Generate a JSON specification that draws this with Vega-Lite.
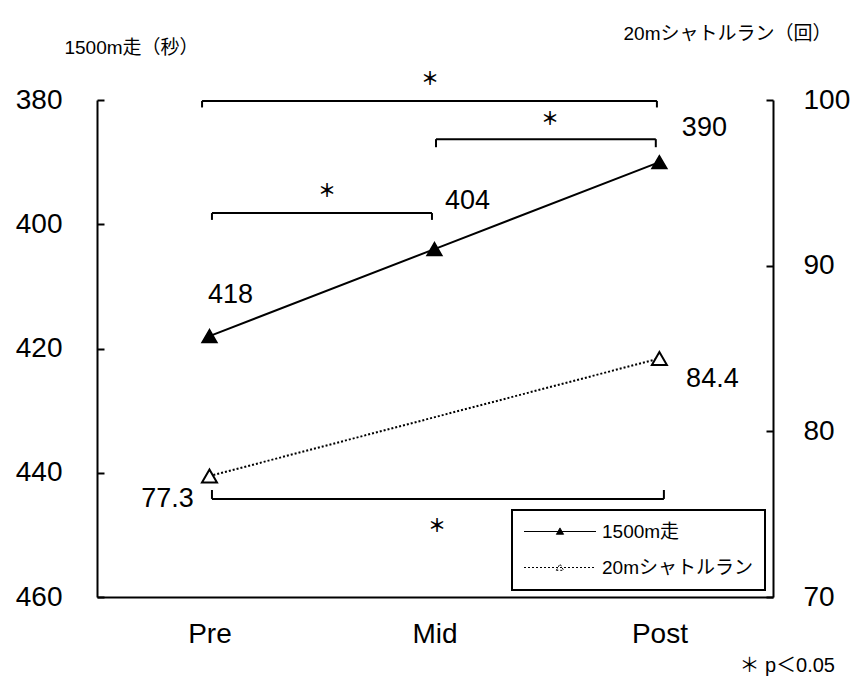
{
  "$schema": "https://vega.github.io/schema/vega-lite/v6.json",
  "width": 676,
  "height": 497,
  "autosize": {"type": "none"},
  "padding": {"left": 97, "top": 100, "right": 78, "bottom": 80},
  "background": "white",
  "config": {
    "view": {"stroke": null},
    "font": "Liberation Sans, Noto Sans CJK JP",
    "axis": {
      "grid": false,
      "domainColor": "black",
      "domainWidth": 2,
      "tickColor": "black",
      "tickWidth": 2,
      "labelColor": "black",
      "titleColor": "black",
      "labelFont": "Liberation Sans, Noto Sans CJK JP",
      "titleFont": "Liberation Sans, Noto Sans CJK JP",
      "titleFontWeight": "normal",
      "labelFlush": false
    },
    "text": {"font": "Liberation Sans, Noto Sans CJK JP", "color": "black"}
  },
  "title": {
    "text": "＊ p＜0.05",
    "orient": "bottom",
    "anchor": "end",
    "frame": "group",
    "fontSize": 20,
    "fontWeight": "normal",
    "color": "black",
    "font": "Liberation Sans, Noto Sans CJK JP",
    "offset": 8,
    "dx": 62
  },
  "datasets": {
    "scores": [
      {"phase": "Pre", "idx": 0, "series": "1500m走", "value": 418},
      {"phase": "Mid", "idx": 1, "series": "1500m走", "value": 404},
      {"phase": "Post", "idx": 2, "series": "1500m走", "value": 390},
      {"phase": "Pre", "idx": 0, "series": "20mシャトルラン", "value": 77.3},
      {"phase": "Post", "idx": 2, "series": "20mシャトルラン", "value": 84.4}
    ],
    "brackets": [
      {"axis": "left", "pair": "Pre-Post", "x1": -0.033, "x2": 1.989, "yBar": 380.15, "yEnd": 381.2, "xs": 0.98, "ys": 376.8},
      {"axis": "left", "pair": "Mid-Post", "x1": 1.007, "x2": 1.984, "yBar": 386.3, "yEnd": 387.6, "xs": 1.514, "ys": 383.2},
      {"axis": "left", "pair": "Pre-Mid", "x1": 0.011, "x2": 0.989, "yBar": 398.2, "yEnd": 399.3, "xs": 0.522, "ys": 394.8},
      {"axis": "right", "pair": "Pre-Post", "x1": 0.011, "x2": 2.02, "yBar": 75.92, "yEnd": 76.46, "xs": 1.011, "ys": 74.23}
    ]
  },
  "resolve": {"scale": {"y": "independent"}},
  "layer": [
    {
      "layer": [
        {
          "data": {"name": "scores"},
          "transform": [{"filter": "datum.series == '1500m走'"}],
          "mark": {"type": "line", "color": "black", "strokeWidth": 2},
          "encoding": {
            "x": {
              "field": "idx", "type": "quantitative",
              "scale": {"domain": [-0.5, 2.505], "nice": false, "zero": false},
              "axis": {
                "values": [0, 1, 2],
                "labelExpr": "datum.value == 0 ? 'Pre' : datum.value == 1 ? 'Mid' : 'Post'",
                "ticks": false,
                "labelPadding": 23,
                "labelFontSize": 28,
                "title": null
              }
            },
            "y": {
              "field": "value", "type": "quantitative",
              "scale": {"domain": [380, 460], "reverse": true, "nice": false, "zero": false},
              "axis": {
                "orient": "left",
                "values": [380, 400, 420, 440, 460],
                "tickSize": -7,
                "labelPadding": 42,
                "labelFontSize": 28,
                "title": "1500m走（秒）",
                "titleAngle": 0,
                "titleX": 34,
                "titleY": -53,
                "titleAlign": "center",
                "titleBaseline": "middle",
                "titleFontSize": 19
              }
            }
          }
        },
        {
          "data": {"name": "scores"},
          "transform": [{"filter": "datum.series == '1500m走'"}],
          "mark": {"type": "point", "shape": "triangle-up", "size": 225, "filled": true, "opacity": 1, "stroke": "black", "strokeWidth": 1.5},
          "encoding": {
            "x": {"field": "idx", "type": "quantitative"},
            "y": {"field": "value", "type": "quantitative"},
            "fill": {
              "field": "series", "type": "nominal",
              "scale": {"domain": ["1500m走", "20mシャトルラン"], "range": ["black", "white"]},
              "legend": {
                "orient": "none",
                "legendX": 415,
                "legendY": 410,
                "title": null,
                "symbolType": "M-4.5,0H4.5M-0.45,0.35L0,-0.45L0.45,0.35Z",
                "symbolSize": 256,
                "symbolStrokeColor": "black",
                "symbolStrokeWidth": 1,
                "symbolOpacity": 1,
                "labelFontSize": 19,
                "labelFont": "Liberation Sans, Noto Sans CJK JP",
                "labelColor": "black",
                "labelOffset": 6,
                "strokeColor": "black",
                "fillColor": "white",
                "padding": 12,
                "rowPadding": 16,
                "encode": {
                  "symbols": {"update": {
                    "x": {"value": 36},
                    "strokeDash": {"signal": "datum.value == '20mシャトルラン' ? [2,2] : [1,0]"}
                  }},
                  "labels": {"update": {"x": {"value": 78}}},
                  "legend": {"update": {"strokeWidth": {"value": 2}}}
                }
              }
            }
          }
        },
        {
          "data": {"name": "brackets"},
          "transform": [{"filter": "datum.axis == 'left'"}],
          "mark": {"type": "rule", "color": "black", "strokeWidth": 2},
          "encoding": {
            "x": {"field": "x1", "type": "quantitative"},
            "x2": {"field": "x2"},
            "y": {"field": "yBar", "type": "quantitative"}
          }
        },
        {
          "data": {"name": "brackets"},
          "transform": [{"filter": "datum.axis == 'left'"}],
          "mark": {"type": "rule", "color": "black", "strokeWidth": 2},
          "encoding": {
            "x": {"field": "x1", "type": "quantitative"},
            "y": {"field": "yBar", "type": "quantitative"},
            "y2": {"field": "yEnd"}
          }
        },
        {
          "data": {"name": "brackets"},
          "transform": [{"filter": "datum.axis == 'left'"}],
          "mark": {"type": "rule", "color": "black", "strokeWidth": 2},
          "encoding": {
            "x": {"field": "x2", "type": "quantitative"},
            "y": {"field": "yBar", "type": "quantitative"},
            "y2": {"field": "yEnd"}
          }
        },
        {
          "data": {"name": "brackets"},
          "transform": [{"filter": "datum.axis == 'left'"}],
          "mark": {"type": "text", "text": "＊", "fontSize": 18, "fontWeight": "bold", "color": "black", "align": "center", "baseline": "middle", "font": "Noto Sans CJK JP"},
          "encoding": {
            "x": {"field": "xs", "type": "quantitative"},
            "y": {"field": "ys", "type": "quantitative"}
          }
        },
        {
          "data": {"name": "scores"},
          "transform": [{"filter": "datum.series == '1500m走' && datum.idx == 0"}],
          "mark": {"type": "text", "fontSize": 27, "color": "black", "align": "center", "baseline": "middle", "dx": 21, "dy": -41},
          "encoding": {
            "x": {"field": "idx", "type": "quantitative"},
            "y": {"field": "value", "type": "quantitative"},
            "text": {"field": "value", "type": "quantitative"}
          }
        },
        {
          "data": {"name": "scores"},
          "transform": [{"filter": "datum.series == '1500m走' && datum.idx == 1"}],
          "mark": {"type": "text", "fontSize": 27, "color": "black", "align": "center", "baseline": "middle", "dx": 33, "dy": -48},
          "encoding": {
            "x": {"field": "idx", "type": "quantitative"},
            "y": {"field": "value", "type": "quantitative"},
            "text": {"field": "value", "type": "quantitative"}
          }
        },
        {
          "data": {"name": "scores"},
          "transform": [{"filter": "datum.series == '1500m走' && datum.idx == 2"}],
          "mark": {"type": "text", "fontSize": 27, "color": "black", "align": "center", "baseline": "middle", "dx": 45, "dy": -34},
          "encoding": {
            "x": {"field": "idx", "type": "quantitative"},
            "y": {"field": "value", "type": "quantitative"},
            "text": {"field": "value", "type": "quantitative"}
          }
        }
      ]
    },
    {
      "layer": [
        {
          "data": {"name": "scores"},
          "transform": [{"filter": "datum.series == '20mシャトルラン'"}],
          "mark": {"type": "line", "color": "black", "strokeWidth": 2, "strokeDash": [2, 2]},
          "encoding": {
            "x": {"field": "idx", "type": "quantitative"},
            "y": {
              "field": "value", "type": "quantitative",
              "scale": {"domain": [70, 100], "nice": false, "zero": false},
              "axis": {
                "orient": "right",
                "values": [70, 80, 90, 100],
                "tickSize": -7,
                "labelPadding": 37,
                "labelFontSize": 28,
                "title": "20mシャトルラン（回）",
                "titleAngle": 0,
                "titleX": -46,
                "titleY": -67,
                "titleAlign": "center",
                "titleBaseline": "middle",
                "titleFontSize": 19
              }
            }
          }
        },
        {
          "data": {"name": "scores"},
          "transform": [{"filter": "datum.series == '20mシャトルラン'"}],
          "mark": {"type": "point", "shape": "triangle-up", "size": 225, "filled": true, "opacity": 1, "stroke": "black", "strokeWidth": 2},
          "encoding": {
            "x": {"field": "idx", "type": "quantitative"},
            "y": {"field": "value", "type": "quantitative"},
            "fill": {"field": "series", "type": "nominal"}
          }
        },
        {
          "data": {"name": "brackets"},
          "transform": [{"filter": "datum.axis == 'right'"}],
          "mark": {"type": "rule", "color": "black", "strokeWidth": 2},
          "encoding": {
            "x": {"field": "x1", "type": "quantitative"},
            "x2": {"field": "x2"},
            "y": {"field": "yBar", "type": "quantitative"}
          }
        },
        {
          "data": {"name": "brackets"},
          "transform": [{"filter": "datum.axis == 'right'"}],
          "mark": {"type": "rule", "color": "black", "strokeWidth": 2},
          "encoding": {
            "x": {"field": "x1", "type": "quantitative"},
            "y": {"field": "yBar", "type": "quantitative"},
            "y2": {"field": "yEnd"}
          }
        },
        {
          "data": {"name": "brackets"},
          "transform": [{"filter": "datum.axis == 'right'"}],
          "mark": {"type": "rule", "color": "black", "strokeWidth": 2},
          "encoding": {
            "x": {"field": "x2", "type": "quantitative"},
            "y": {"field": "yBar", "type": "quantitative"},
            "y2": {"field": "yEnd"}
          }
        },
        {
          "data": {"name": "brackets"},
          "transform": [{"filter": "datum.axis == 'right'"}],
          "mark": {"type": "text", "text": "＊", "fontSize": 18, "fontWeight": "bold", "color": "black", "align": "center", "baseline": "middle", "font": "Noto Sans CJK JP"},
          "encoding": {
            "x": {"field": "xs", "type": "quantitative"},
            "y": {"field": "ys", "type": "quantitative"}
          }
        },
        {
          "data": {"name": "scores"},
          "transform": [{"filter": "datum.series == '20mシャトルラン' && datum.idx == 0"}],
          "mark": {"type": "text", "fontSize": 27, "color": "black", "align": "center", "baseline": "middle", "dx": -42, "dy": 23},
          "encoding": {
            "x": {"field": "idx", "type": "quantitative"},
            "y": {"field": "value", "type": "quantitative"},
            "text": {"field": "value", "type": "quantitative"}
          }
        },
        {
          "data": {"name": "scores"},
          "transform": [{"filter": "datum.series == '20mシャトルラン' && datum.idx == 2"}],
          "mark": {"type": "text", "fontSize": 27, "color": "black", "align": "center", "baseline": "middle", "dx": 53, "dy": 21},
          "encoding": {
            "x": {"field": "idx", "type": "quantitative"},
            "y": {"field": "value", "type": "quantitative"},
            "text": {"field": "value", "type": "quantitative"}
          }
        }
      ]
    }
  ]
}
